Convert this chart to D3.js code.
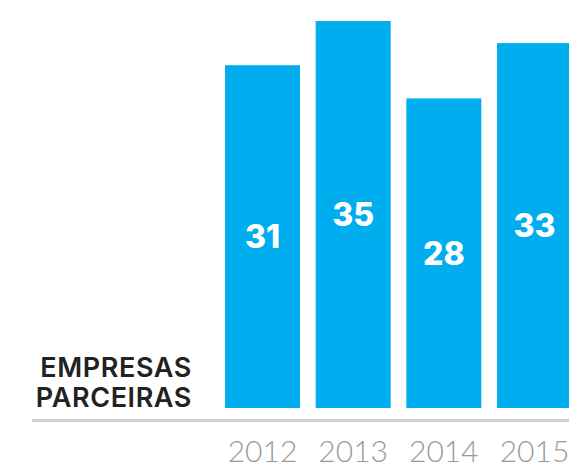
<!DOCTYPE html>
<html>
<head>
<meta charset="utf-8">
<script src="https://cdn.jsdelivr.net/npm/d3@7"></script>
<style>
  html, body { margin: 0; padding: 0; background: #fff; }
  svg { display: block; }
</style>
</head>
<body>
<svg id="chart" width="569" height="468"></svg>
<script>
const years = ["2012", "2013", "2014", "2015"];
const values = [31, 35, 28, 33];
const titleLines = ["EMPRESAS", "PARCEIRAS"];

const svg = d3.select("#chart");

const x = d3.scaleBand().domain(years).range([225, 572]).paddingInner(0.173).paddingOuter(0);
const y = d3.scaleLinear().domain([0, 35]).range([408, 21]);

const data = years.map((yr, i) => ({ year: yr, value: values[i] }));

svg.selectAll("rect.bar").data(data).enter().append("rect")
  .attr("class", "bar")
  .attr("x", d => x(d.year))
  .attr("y", d => y(d.value))
  .attr("width", x.bandwidth())
  .attr("height", d => y(0) - y(d.value))
  .attr("fill", "#00aeef");

svg.selectAll("text.val").data(data).enter().append("text")
  .attr("class", "val")
  .attr("x", d => x(d.year) + x.bandwidth() / 2)
  .attr("y", d => (y(d.value) + y(0)) / 2)
  .attr("dy", "0.36em")
  .attr("text-anchor", "middle")
  .attr("font-family", "Inter, sans-serif")
  .attr("font-weight", 800)
  .attr("font-size", 32)
  .attr("fill", "#fff")
  .text(d => d.value);

// baseline
svg.append("rect")
  .attr("x", 32).attr("y", 419)
  .attr("width", 569 - 32).attr("height", 3)
  .attr("fill", "#cfcfcf");

// x axis labels
const xAxis = d3.axisBottom(x).tickSize(0).tickPadding(0);
const gx = svg.append("g").attr("transform", "translate(0,462)").call(xAxis);
gx.select(".domain").remove();
gx.selectAll("text")
  .attr("y", 0)
  .attr("dy", "0")
  .attr("font-family", "Lato, sans-serif")
  .attr("font-weight", 300)
  .attr("font-size", 30)
  .attr("fill", "#9a9a9a");

// title
svg.append("text")
  .attr("x", 192)
  .attr("text-anchor", "end")
  .attr("font-family", "Inter, sans-serif")
  .attr("font-weight", 600)
  .attr("font-size", 27)
  .attr("letter-spacing", 0.6)
  .attr("fill", "#222")
  .selectAll("tspan").data(titleLines).enter().append("tspan")
  .attr("x", 192)
  .attr("y", (d, i) => 377 + i * 30)
  .text(d => d);
</script>
</body>
</html>
